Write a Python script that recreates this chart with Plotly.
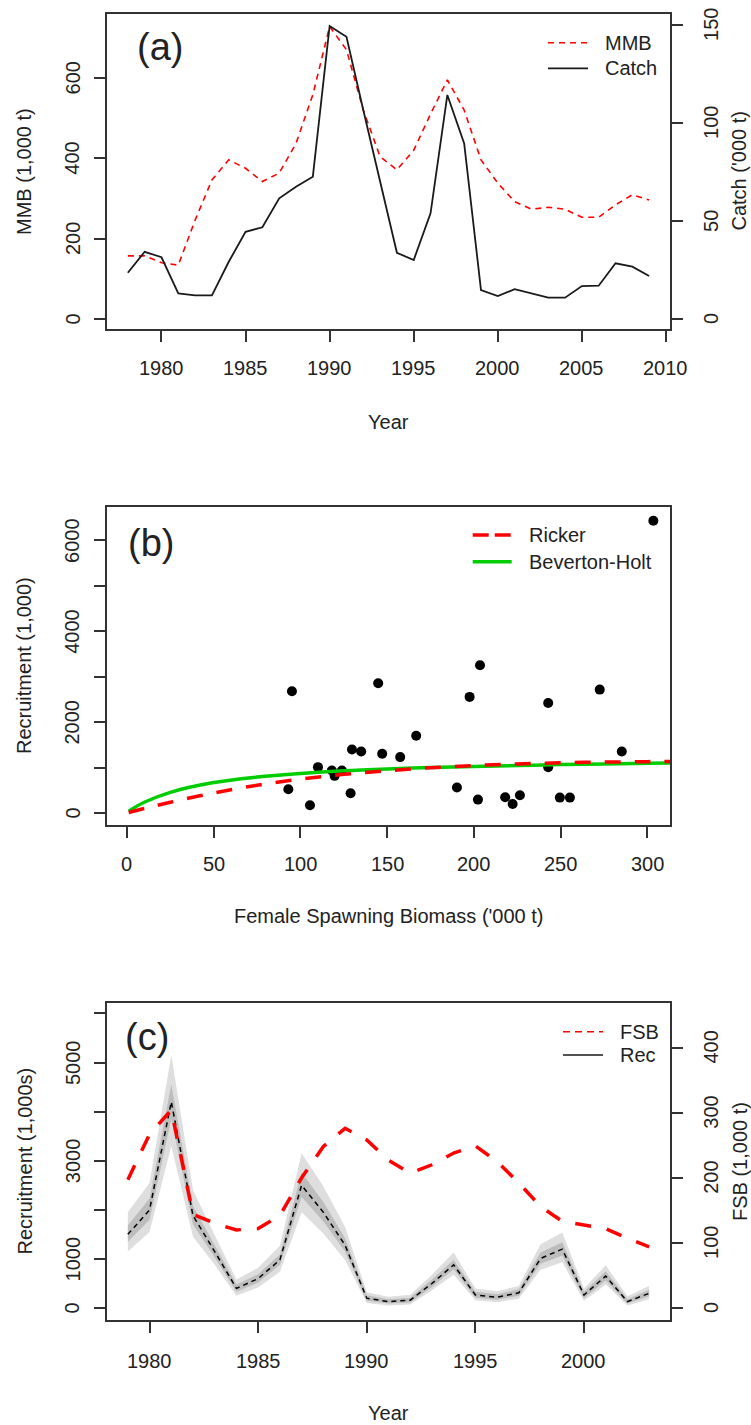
import plotly.graph_objects as go

W, H = 751, 1425
FONT = "Liberation Sans, Arial, sans-serif"
TXT = "#222222"
AX = "#333333"

# ---------------- Panel (a) data ----------------
years_a = list(range(1978, 2010))
mmb = [157, 157, 140, 134, 246, 346, 396, 375, 342, 363, 437, 558, 728, 670, 520, 404,
       371, 420, 510, 595, 520, 396, 338, 292, 273, 278, 273, 253, 253, 284, 309, 296]
catch = [23.6, 34.3, 31.5, 13.1, 12.1, 12.1, 29.2, 44.5, 46.8, 61.6, 67.5, 72.6, 149.5, 144.0,
         106.6, 70.0, 33.8, 30.1, 53.9, 114.3, 89.6, 14.8, 11.7, 15.2, 13.1, 10.9, 10.9, 16.8,
         17.0, 28.4, 26.7, 21.9]
xticks_a = [1980, 1985, 1990, 1995, 2000, 2005, 2010]
mmb_ticks = [0, 200, 400, 600]
catch_ticks = [0, 50, 100, 150]

# ---------------- Panel (b) data ----------------
fsb_pts = [95.1, 144.8, 166.7, 129.7, 135.0, 147.1, 157.5, 110.1, 118.1, 123.9, 119.7, 93.0,
           128.9, 105.5, 303.4, 203.5, 197.5, 242.8, 272.5, 285.2, 242.8, 190.2, 202.3, 218.0,
           222.3, 226.5, 249.5, 255.3]
rec_pts = [2680, 2856, 1700, 1398, 1354, 1303, 1230, 1009, 934, 934, 817, 523,
           435, 170, 6434, 3253, 2555, 2422, 2716, 1354, 1009, 559, 294, 347,
           199, 391, 338, 338]
curve_s = [1, 10, 25, 50, 75, 100, 125, 150, 175, 200, 225, 250, 275, 300, 313]
ricker = [10, 100, 235, 440, 610, 745, 850, 930, 995, 1045, 1080, 1105, 1120, 1130, 1132]
bevholt = [40, 235, 455, 670, 790, 870, 930, 970, 1000, 1025, 1045, 1065, 1080, 1093, 1098]
xticks_b = [0, 50, 100, 150, 200, 250, 300]
yticks_b = [0, 1000, 2000, 3000, 4000, 5000, 6000]
ylabels_b = ["0", "", "2000", "", "4000", "", "6000"]

# ---------------- Panel (c) data ----------------
years_c = list(range(1979, 2004))
rec = [1500, 2000, 4200, 1880, 1150, 400, 600, 980, 2500, 1950, 1280, 200, 130, 160,
       500, 880, 265, 220, 310, 1010, 1200, 265, 650, 130, 300]
outer_lo = [1150, 1550, 3300, 1450, 880, 250, 420, 740, 1950, 1520, 980, 100, 50, 70,
            360, 680, 160, 120, 190, 780, 930, 150, 480, 50, 180]
outer_hi = [1950, 2550, 5150, 2400, 1480, 580, 820, 1270, 3150, 2480, 1650, 320, 230, 270,
            680, 1130, 400, 340, 450, 1300, 1540, 400, 870, 240, 450]
inner_lo = [1350, 1800, 3850, 1700, 1030, 330, 520, 880, 2260, 1760, 1150, 150, 90, 110,
            430, 790, 210, 170, 250, 900, 1070, 200, 560, 90, 240]
inner_hi = [1680, 2230, 4550, 2080, 1280, 480, 690, 1090, 2760, 2160, 1420, 260, 180, 210,
            580, 980, 330, 280, 380, 1130, 1340, 330, 750, 180, 370]
fsb = [197, 267, 304, 144, 130, 120, 122, 142, 200, 248, 276, 258, 227, 207,
       220, 238, 249, 225, 192, 156, 133, 127, 122, 107, 94]
xticks_c = [1980, 1985, 1990, 1995, 2000]
yticks_c = [0, 1000, 2000, 3000, 4000, 5000, 6000]
ylabels_c = ["0", "1000", "", "3000", "", "5000", ""]
fsb_ticks = [0, 100, 200, 300, 400]


def px(x):
    return x / W


def py(y):
    return 1 - y / H


fig = go.Figure()

# Panel (a)
fig.add_trace(go.Scatter(x=years_a, y=mmb, mode="lines", xaxis="x", yaxis="y",
                         line=dict(color="#ff0000", width=1.6, dash="6px,5px")))
fig.add_trace(go.Scatter(x=years_a, y=catch, mode="lines", xaxis="x", yaxis="y2",
                         line=dict(color="#1a1a1a", width=1.8)))

# Panel (b)
fig.add_trace(go.Scatter(x=fsb_pts, y=rec_pts, mode="markers", xaxis="x2", yaxis="y3",
                         marker=dict(color="#000000", size=10)))
fig.add_trace(go.Scatter(x=curve_s, y=bevholt, mode="lines", xaxis="x2", yaxis="y3",
                         line=dict(color="#00cd00", width=3.5, shape="spline")))
fig.add_trace(go.Scatter(x=curve_s, y=ricker, mode="lines", xaxis="x2", yaxis="y3",
                         line=dict(color="#ff0000", width=3.5, dash="16px,14px", shape="spline")))

# Panel (c)
fig.add_trace(go.Scatter(x=years_c + years_c[::-1], y=outer_hi + outer_lo[::-1],
                         mode="lines", fill="toself", fillcolor="#dedede",
                         line=dict(width=0, color="#dedede"), xaxis="x3", yaxis="y4"))
fig.add_trace(go.Scatter(x=years_c + years_c[::-1], y=inner_hi + inner_lo[::-1],
                         mode="lines", fill="toself", fillcolor="#bdbdbd",
                         line=dict(width=0, color="#bdbdbd"), xaxis="x3", yaxis="y4"))
fig.add_trace(go.Scatter(x=years_c, y=rec, mode="lines", xaxis="x3", yaxis="y4",
                         line=dict(color="#000000", width=1.5, dash="5px,4px")))
fig.add_trace(go.Scatter(x=years_c, y=fsb, mode="lines", xaxis="x3", yaxis="y5",
                         line=dict(color="#ff0000", width=3.5, dash="16px,16px")))

common = dict(showline=True, linecolor=AX, linewidth=2, ticks="outside", ticklen=11,
              tickwidth=2, tickcolor=AX, showgrid=False, zeroline=False,
              showticklabels=False)
xdom = [px(107), px(670)]

fig.update_layout(
    width=W, height=H, margin=dict(l=0, r=0, t=0, b=0),
    paper_bgcolor="white", plot_bgcolor="white", showlegend=False,
    font=dict(family=FONT, size=20, color=TXT),
    xaxis=dict(domain=xdom, anchor="y", range=[1976.76, 2010.24], mirror=True,
               tickvals=xticks_a, **common),
    yaxis=dict(domain=[py(329), py(14)], anchor="x", range=[-25, 759],
               tickvals=mmb_ticks, **common),
    yaxis2=dict(overlaying="y", side="right", anchor="x", range=[-5.1, 155.6],
                tickvals=catch_ticks, **common),
    xaxis2=dict(domain=xdom, anchor="y3", range=[-11.5, 313], mirror=True,
                tickvals=xticks_b, **common),
    yaxis3=dict(domain=[py(825), py(507)], anchor="x2", range=[-265, 6736], mirror=True,
                tickvals=yticks_b, **common),
    xaxis3=dict(domain=xdom, anchor="y4", range=[1978.04, 2003.96], mirror=True,
                tickvals=xticks_c, **common),
    yaxis4=dict(domain=[py(1320), py(1003.3)], anchor="x3", range=[-244, 6206],
                tickvals=yticks_c, **common),
    yaxis5=dict(overlaying="y4", side="right", anchor="x3", range=[-18.4, 468],
                tickvals=fsb_ticks, **common),
)

ann = []


def text(x, y, s, size=20, angle=0, xanchor="center"):
    ann.append(dict(x=px(x), y=py(y), xref="paper", yref="paper", text=s, showarrow=False,
                    xanchor=xanchor, yanchor="middle", textangle=angle,
                    font=dict(family=FONT, size=size, color=TXT)))


def ylabels(vals, labels, yref, xpix):
    for v, s in zip(vals, labels):
        if s:
            ann.append(dict(x=px(xpix), y=v, xref="paper", yref=yref, text=s,
                            showarrow=False, xanchor="center", yanchor="middle",
                            textangle=-90, font=dict(family=FONT, size=20, color=TXT)))


def xlabels(vals, labels, xref, ypix):
    for v, s in zip(vals, labels):
        if s:
            ann.append(dict(x=v, y=py(ypix), xref=xref, yref="paper", text=s,
                            showarrow=False, xanchor="center", yanchor="middle",
                            font=dict(family=FONT, size=20, color=TXT)))


# tick labels
xlabels(xticks_a, [str(v) for v in xticks_a], "x", 368)
ylabels(mmb_ticks, [str(v) for v in mmb_ticks], "y", 72.5)
ylabels(catch_ticks, [str(v) for v in catch_ticks], "y2", 711)
xlabels(xticks_b, [str(v) for v in xticks_b], "x2", 864)
ylabels(yticks_b, ylabels_b, "y3", 72.5)
xlabels(xticks_c, [str(v) for v in xticks_c], "x3", 1360.5)
ylabels(yticks_c, ylabels_c, "y4", 72.5)
ylabels(fsb_ticks, [str(v) for v in fsb_ticks], "y5", 711)

# axis titles
text(24.5, 171.5, "MMB (1,000 t)", angle=-90)
text(739, 171.5, "Catch ('000 t)", angle=-90)
text(388.5, 422, "Year")
text(24, 666, "Recruitment (1,000)", angle=-90)
text(388.5, 916, "Female Spawning Biomass ('000 t)")
text(24, 1161.5, "Recruitment (1,000s)", angle=-90)
text(739.5, 1161.5, "FSB (1,000 t)", angle=-90)
text(388.5, 1413, "Year")

# panel labels
text(160, 47, "(a)", size=38)
text(151, 543, "(b)", size=38)
text(147, 1037, "(c)", size=38)

# legends
text(603, 42.7, "MMB", xanchor="left")
text(603, 68.3, "Catch", xanchor="left")
text(526.7, 535, "Ricker", xanchor="left")
text(526.7, 561.7, "Beverton-Holt", xanchor="left")
text(618, 1031.7, "FSB", xanchor="left")
text(618, 1055, "Rec", xanchor="left")

shapes = []


def seg(x0, x1, y, color, width, dash="solid"):
    shapes.append(dict(type="line", xref="paper", yref="paper", x0=px(x0), x1=px(x1),
                       y0=py(y), y1=py(y), line=dict(color=color, width=width, dash=dash)))


seg(548, 588, 42.7, "#ff0000", 1.6, "6px,5px")
seg(548, 588, 68.3, "#1a1a1a", 1.8)
seg(472.7, 511.7, 535, "#ff0000", 3.5, "16px,6px")
seg(472.7, 511.7, 561.7, "#00cd00", 3.5)
seg(563, 603, 1031.7, "#ff0000", 1.6, "7px,5px")
seg(563, 603, 1055, "#1a1a1a", 1.6)

fig.update_layout(annotations=ann, shapes=shapes)
fig.write_html("out.html")
